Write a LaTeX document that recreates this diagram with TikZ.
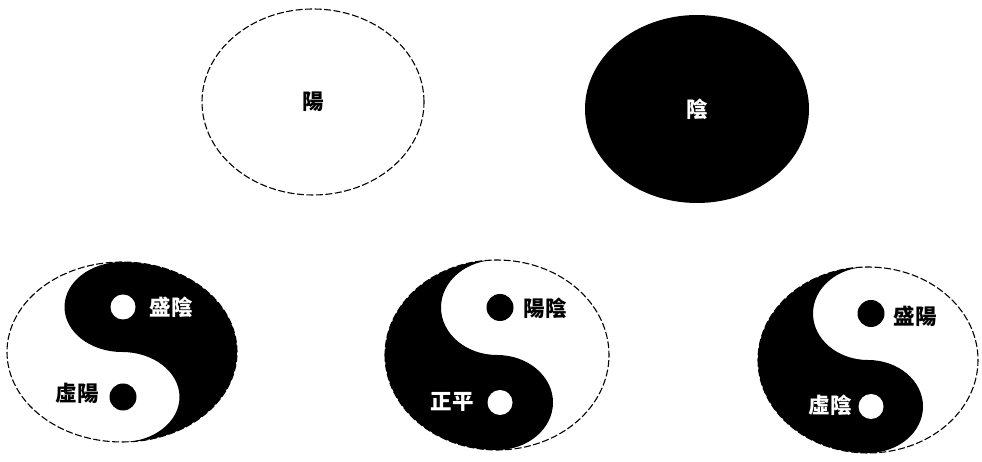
\documentclass[tikz,border=0pt]{standalone}
\usepackage{fontspec}
\newfontfamily\cjk{Noto Sans CJK TC}
\usetikzlibrary{shapes.geometric}
\tikzset{
  outline/.style={draw=black, line width=1.1pt, dash pattern=on 7pt off 2.5pt},
  dotw/.style={circle, fill=white, inner sep=0pt, minimum size=25pt},
  dotb/.style={circle, fill=black, inner sep=0pt, minimum size=27pt},
  lblb/.style={font=\cjk\bfseries\fontsize{21.5}{21.5}\selectfont, text=black, inner sep=0pt},
  lblw/.style={lblb, text=white},
}
\newcommand\yinyangshape[2]{%
  \fill[black] (0pt,#2pt) arc[start angle=90,end angle=-90,x radius=#1pt,y radius=#2pt]
    arc[start angle=-90,end angle=90,x radius=#1pt/2,y radius=#2pt/2]
    arc[start angle=270,end angle=90,x radius=#1pt/2,y radius=#2pt/2] -- cycle;
  \draw[outline] (0pt,0pt) ellipse[x radius=#1pt, y radius=#2pt];
}
\begin{document}
\begin{tikzpicture}[x=1pt,y=1pt]
\useasboundingbox (0,0) rectangle (982,462);
\fill[white] (0,0) rectangle (982,462);
% top
\node[ellipse, outline, minimum width=222pt, minimum height=186pt, lblb] (yang) at (313,360) {陽};
\node[ellipse, fill=black, minimum width=224pt, minimum height=188pt, lblw] (yin) at (697,353) {陰};
% bottom left
\begin{scope}[shift={(122,110)}]
  \yinyangshape{115}{90}
\end{scope}
\node[dotw] (d1w) at (123,155) {};
\node[dotb] (d1b) at (123,65) {};
\node[lblw] (t1a) at (171,155) {盛陰};
\node[lblb] (t1b) at (77,69) {虛陽};
% bottom middle
\begin{scope}[shift={(497,107)}, rotate=180]
  \yinyangshape{112}{95}
\end{scope}
\node[dotb] (d2b) at (500,154.5) {};
\node[dotw] (d2w) at (500,59.5) {};
\node[lblb] (t2a) at (545,154) {陽陰};
\node[lblw] (t2b) at (452,60) {正平};
% bottom right
\begin{scope}[shift={(868,102)}, rotate=180]
  \yinyangshape{110}{93}
\end{scope}
\node[dotb] (d3b) at (871,148.5) {};
\node[dotw] (d3w) at (871,55.5) {};
\node[lblb] (t3a) at (915,146) {盛陽};
\node[lblw] (t3b) at (830,57) {虛陰};
\end{tikzpicture}
\end{document}
